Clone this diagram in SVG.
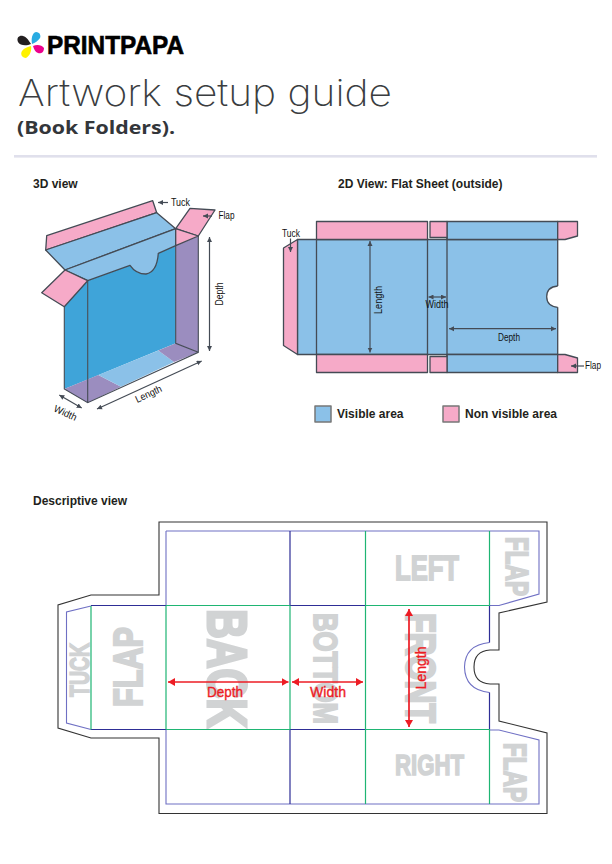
<svg xmlns="http://www.w3.org/2000/svg" width="612" height="864" viewBox="0 0 612 864">
<defs>
<style>
text{font-family:"Liberation Sans",Arial,sans-serif}
.hd{font-size:12px;font-weight:700;fill:#231f20}
.lb{font-size:10px;fill:#111;text-anchor:middle}
.lg{font-size:12px;font-weight:700;fill:#231f20}
.big{font-weight:700;fill:#d1d3d4;stroke:#d1d3d4;paint-order:stroke}
.red{font-size:14px;font-weight:400;fill:#ed1c24;stroke:#ed1c24;stroke-width:.35;text-anchor:middle}
.bl{fill:#8bc1e8;stroke:#444b55;stroke-width:1.3;stroke-linejoin:round}
.dk{fill:#3fa4d9;stroke:none}
.pk{fill:#f6aac8;stroke:#444b55;stroke-width:1.3;stroke-linejoin:round}
.pu{fill:#9b8dbf;stroke:none}
.ln{fill:none;stroke:#444b55;stroke-width:1.3}
.ar{fill:none;stroke:#444b55;stroke-width:1.2;marker-start:url(#g1);marker-end:url(#g2)}
.ar1{fill:none;stroke:#444b55;stroke-width:1.2;marker-end:url(#g2)}
.gr{fill:none;stroke:#1fb573;stroke-width:1.2}
.nv{fill:none;stroke:#2e2e96;stroke-width:1.2}
.lt{fill:none;stroke:#6f70c4;stroke-width:1.1}
.ra{fill:none;stroke:#ed1c24;stroke-width:1.7;marker-start:url(#r1);marker-end:url(#r2)}
</style>
<marker id="g2" markerWidth="6" markerHeight="6" refX="5" refY="2.5" orient="auto" markerUnits="userSpaceOnUse"><path d="M0 0L5 2.5L0 5z" fill="#444b55"/></marker>
<marker id="g1" markerWidth="6" markerHeight="6" refX="0" refY="2.5" orient="auto" markerUnits="userSpaceOnUse"><path d="M5 0L0 2.5L5 5z" fill="#444b55"/></marker>
<marker id="r2" markerWidth="9" markerHeight="9" refX="7" refY="4" orient="auto" markerUnits="userSpaceOnUse"><path d="M0 0L7 4L0 8z" fill="#ed1c24"/></marker>
<marker id="r1" markerWidth="9" markerHeight="9" refX="0" refY="4" orient="auto" markerUnits="userSpaceOnUse"><path d="M7 0L0 4L7 8z" fill="#ed1c24"/></marker>
</defs>
<rect width="612" height="864" fill="#fff"/>

<g id="logo">
<path d="M31 44C27 46 20 46 18 42C16 37 20 35 23 36C27 37 29 41 31 44z" fill="#231f20"/>
<path d="M32 44C31 39 32 33 36 32C40 32 41 36 40 38C38 41 35 43 32 44z" fill="#29abe2"/>
<path d="M33 46C37 44 42 45 44 48C44 53 40 54 38 53C35 52 34 49 33 46z" fill="#ec008c"/>
<path d="M31 46C32 50 30 56 26 58C22 58 20 54 22 51C24 48 28 47 31 46z" fill="#fff200"/>
<text x="47" y="54" font-size="25" font-weight="700" fill="#000" stroke="#000" stroke-width=".6" textLength="137" lengthAdjust="spacingAndGlyphs">PRINTPAPA</text>
</g>
<g id="title">
<text x="18" y="106" font-size="37" style="font-family:Inter,Lato,sans-serif;font-weight:200" fill="#3a3d40" textLength="374" lengthAdjust="spacingAndGlyphs">Artwork setup guide</text>
<text x="17" y="134" font-size="18" style="font-family:'Open Sans',sans-serif;font-weight:700" fill="#33363a" textLength="158" lengthAdjust="spacingAndGlyphs">(Book Folders).</text>
<rect x="14" y="155" width="583" height="2.6" fill="#e0e0ec"/>
</g>

<text class="hd" x="33" y="188">3D view</text>
<text class="hd" x="338" y="188">2D View: Flat Sheet (outside)</text>
<text class="hd" x="33" y="505">Descriptive view</text>

<g id="view-3d">
<path class="dk" d="M87.700 280.700L130 265.300Q136 274 146 274Q157 272 158.300 253.300L175.700 245.700V343.300L87.700 379.400z"/>
<path class="dk" d="M64.300 306.700L87.700 280.700V379.400L64.300 389z"/>
<path class="pu" d="M175.700 245.700L198.300 236V352.300L175.700 343.300z"/>
<path class="pu" d="M64.300 389L98.300 375L121 386.700L87.700 402.700z"/>
<path d="M98.300 375L158.300 350.400L174 362L121 386.700z" fill="#8bc1e8"/>
<path class="pu" d="M158.300 350.400L175.700 343.300L198.300 352.300L174 362z"/>
<path class="ln" d="M198.300 236V352.300L87.700 402.700L64.300 389V306.700M87.700 402.700V280.700M175.700 245.700V343.300L198.300 352.300" style="stroke-width:1.100"/>
<path class="pk" d="M152.700 200.700L156.700 212.700L45.700 250L46.700 235.700z"/>
<path class="bl" d="M156.700 212.700L175.700 228.700L65 270L45.700 250z"/>
<path class="bl" d="M65 270L175.700 228.700V245.700L158.300 253.300Q157 272 146 274Q136 274 130 265.300L87.700 280.700z"/>
<path class="pk" d="M65 270L87.700 280.700L64.300 306.700L41.700 292.700z"/>
<path class="pk" d="M175.700 228.700L190 208.300L215 210L198.300 236z"/>
<path class="pk" d="M175.700 228.700L198.300 236L175.700 245.700z"/>
<path class="ar1" d="M168 202.500H158"/>
<path class="ar1" d="M212 216L203 216"/>
<path class="ar" d="M209.500 237V351"/>
<path class="ar" d="M59.300 395L81.700 408"/>
<path class="ar" d="M97 409L201.700 361"/>
<text class="lb" x="180.500" y="206" textLength="19" lengthAdjust="spacingAndGlyphs">Tuck</text>
<text class="lb" x="226.500" y="219" textLength="16" lengthAdjust="spacingAndGlyphs">Flap</text>
<text class="lb" transform="translate(223 294) rotate(-90)" textLength="23" lengthAdjust="spacingAndGlyphs">Depth</text>
<text class="lb" transform="translate(64 416) rotate(25)" textLength="24" lengthAdjust="spacingAndGlyphs">Width</text>
<text class="lb" transform="translate(150 397) rotate(-25)" textLength="28" lengthAdjust="spacingAndGlyphs">Length</text>
</g>

<g id="view-2d">
<rect class="bl" x="297.500" y="239.500" width="260.200" height="115"/>
<path d="M559 286H557.700Q546.700 287 546.700 296.700Q546.700 306 557.700 307.300H559z" fill="#fff"/>
<path class="ln" d="M557.700 286Q546.700 287 546.700 296.700Q546.700 306 557.700 307.300"/>
<rect class="bl" x="447" y="221.500" width="110.700" height="18"/>
<rect class="bl" x="447" y="354.500" width="110.700" height="18"/>
<rect class="pk" x="316.500" y="221.500" width="111" height="18"/>
<rect class="pk" x="316.500" y="354.500" width="111" height="18"/>
<rect class="pk" x="430" y="221.500" width="17" height="16"/>
<rect class="pk" x="430" y="356.500" width="17" height="16"/>
<path class="pk" d="M557.700 221.500H577.500V236L565 239.500H557.700z"/>
<path class="pk" d="M557.700 354.500H565L577.500 358V372.500H557.700z"/>
<path class="pk" d="M297.500 239.500L283.500 248V345.500L297.500 354.500z"/>
<path class="ln" d="M316.500 239.500V354.500M427.500 239.500V354.500M447 237.500V356.500"/>
<path class="ar" d="M370 241V352.500"/>
<path class="ar" d="M428.500 297H446"/>
<path class="ar" d="M449 328.700H556"/>
<path class="ar1" d="M290.500 238.500V252"/>
<path class="ar1" d="M584 366H571"/>
<text class="lb" x="291" y="237" textLength="18" lengthAdjust="spacingAndGlyphs">Tuck</text>
<text class="lb" x="593" y="369" textLength="16" lengthAdjust="spacingAndGlyphs">Flap</text>
<text class="lb" transform="translate(381.500 300) rotate(-90)" textLength="28" lengthAdjust="spacingAndGlyphs">Length</text>
<text class="lb" x="437" y="308" textLength="23" lengthAdjust="spacingAndGlyphs">Width</text>
<text class="lb" x="509" y="341" textLength="22" lengthAdjust="spacingAndGlyphs">Depth</text>
</g>

<g id="legend">
<rect class="bl" x="315" y="406" width="16" height="16" style="stroke:#777;stroke-width:1.500"/>
<text class="lg" x="337" y="418">Visible area</text>
<rect class="pk" x="443" y="406" width="16" height="16" style="stroke:#777;stroke-width:1.500"/>
<text class="lg" x="465" y="418">Non visible area</text>
</g>

<g id="view-descriptive">
<path fill="none" stroke="#333" stroke-width="1.100" d="M159 522H547V602L499 613V650H490Q474 651 474 667Q474 683 490 684H499V721L547 733V813.500H159V738H91L58 728V605L91 595H159z"/>
<g id="labels-grey">
<text class="big" transform="translate(208 609) rotate(90)" font-size="56" stroke-width="3" textLength="119" lengthAdjust="spacingAndGlyphs">BACK</text>
<text class="big" transform="translate(142 707) rotate(-90)" font-size="41" stroke-width="2.200" textLength="80" lengthAdjust="spacingAndGlyphs">FLAP</text>
<text class="big" transform="translate(88.500 697) rotate(-90)" font-size="28" stroke-width="1.500" textLength="54" lengthAdjust="spacingAndGlyphs">TUCK</text>
<text class="big" transform="translate(314 613) rotate(90)" font-size="34" stroke-width="2" textLength="111" lengthAdjust="spacingAndGlyphs">BOTTOM</text>
<text class="big" transform="translate(406 613) rotate(90)" font-size="42" stroke-width="2.400" textLength="110" lengthAdjust="spacingAndGlyphs">FRONT</text>
<text class="big" x="395" y="579.500" font-size="35" stroke-width="1.800" textLength="64" lengthAdjust="spacingAndGlyphs">LEFT</text>
<text class="big" x="395" y="774.500" font-size="29" stroke-width="1.500" textLength="69" lengthAdjust="spacingAndGlyphs">RIGHT</text>
<text class="big" transform="translate(505.500 537) rotate(90)" font-size="31" stroke-width="1.800" textLength="59" lengthAdjust="spacingAndGlyphs">FLAP</text>
<text class="big" transform="translate(503.500 743) rotate(90)" font-size="31" stroke-width="1.800" textLength="59" lengthAdjust="spacingAndGlyphs">FLAP</text>
</g>
<path class="lt" d="M166 531H489.500M166 531V605M489.500 531H539V594L499 605.500H489.500M166 730V804H539V740L499 730H489.500M91 606L66.500 612V723L91 729.500M489.500 642.500Q465 645 464.500 667Q465 690 489.500 692.500"/>
<path class="nv" d="M91 605.500H166M91 729.500H166M489.500 605.500V642.500M489.500 692.500V729.500M290 531V605.500M290 729.500V804M290 605.500H365.500M290 729.500H365.500"/>
<path class="gr" d="M91 606V729.500M166 605.500H290M365.500 605.500H489.500M166 729.500H290M365.500 729.500H489.500M166 605.500V729.500M290 605.500V729.500M365.500 531V804M489.500 531V605.500M489.500 729.500V804"/>
<path class="ra" d="M168 682H288.500"/>
<path class="ra" d="M292 682H363"/>
<path class="ra" d="M409 609V727"/>
<text class="red" x="225" y="697" textLength="36" lengthAdjust="spacingAndGlyphs">Depth</text>
<text class="red" x="328" y="697" textLength="36" lengthAdjust="spacingAndGlyphs">Width</text>
<text class="red" transform="translate(426 668) rotate(-90)" textLength="43" lengthAdjust="spacingAndGlyphs">Length</text>
</g>
</svg>
